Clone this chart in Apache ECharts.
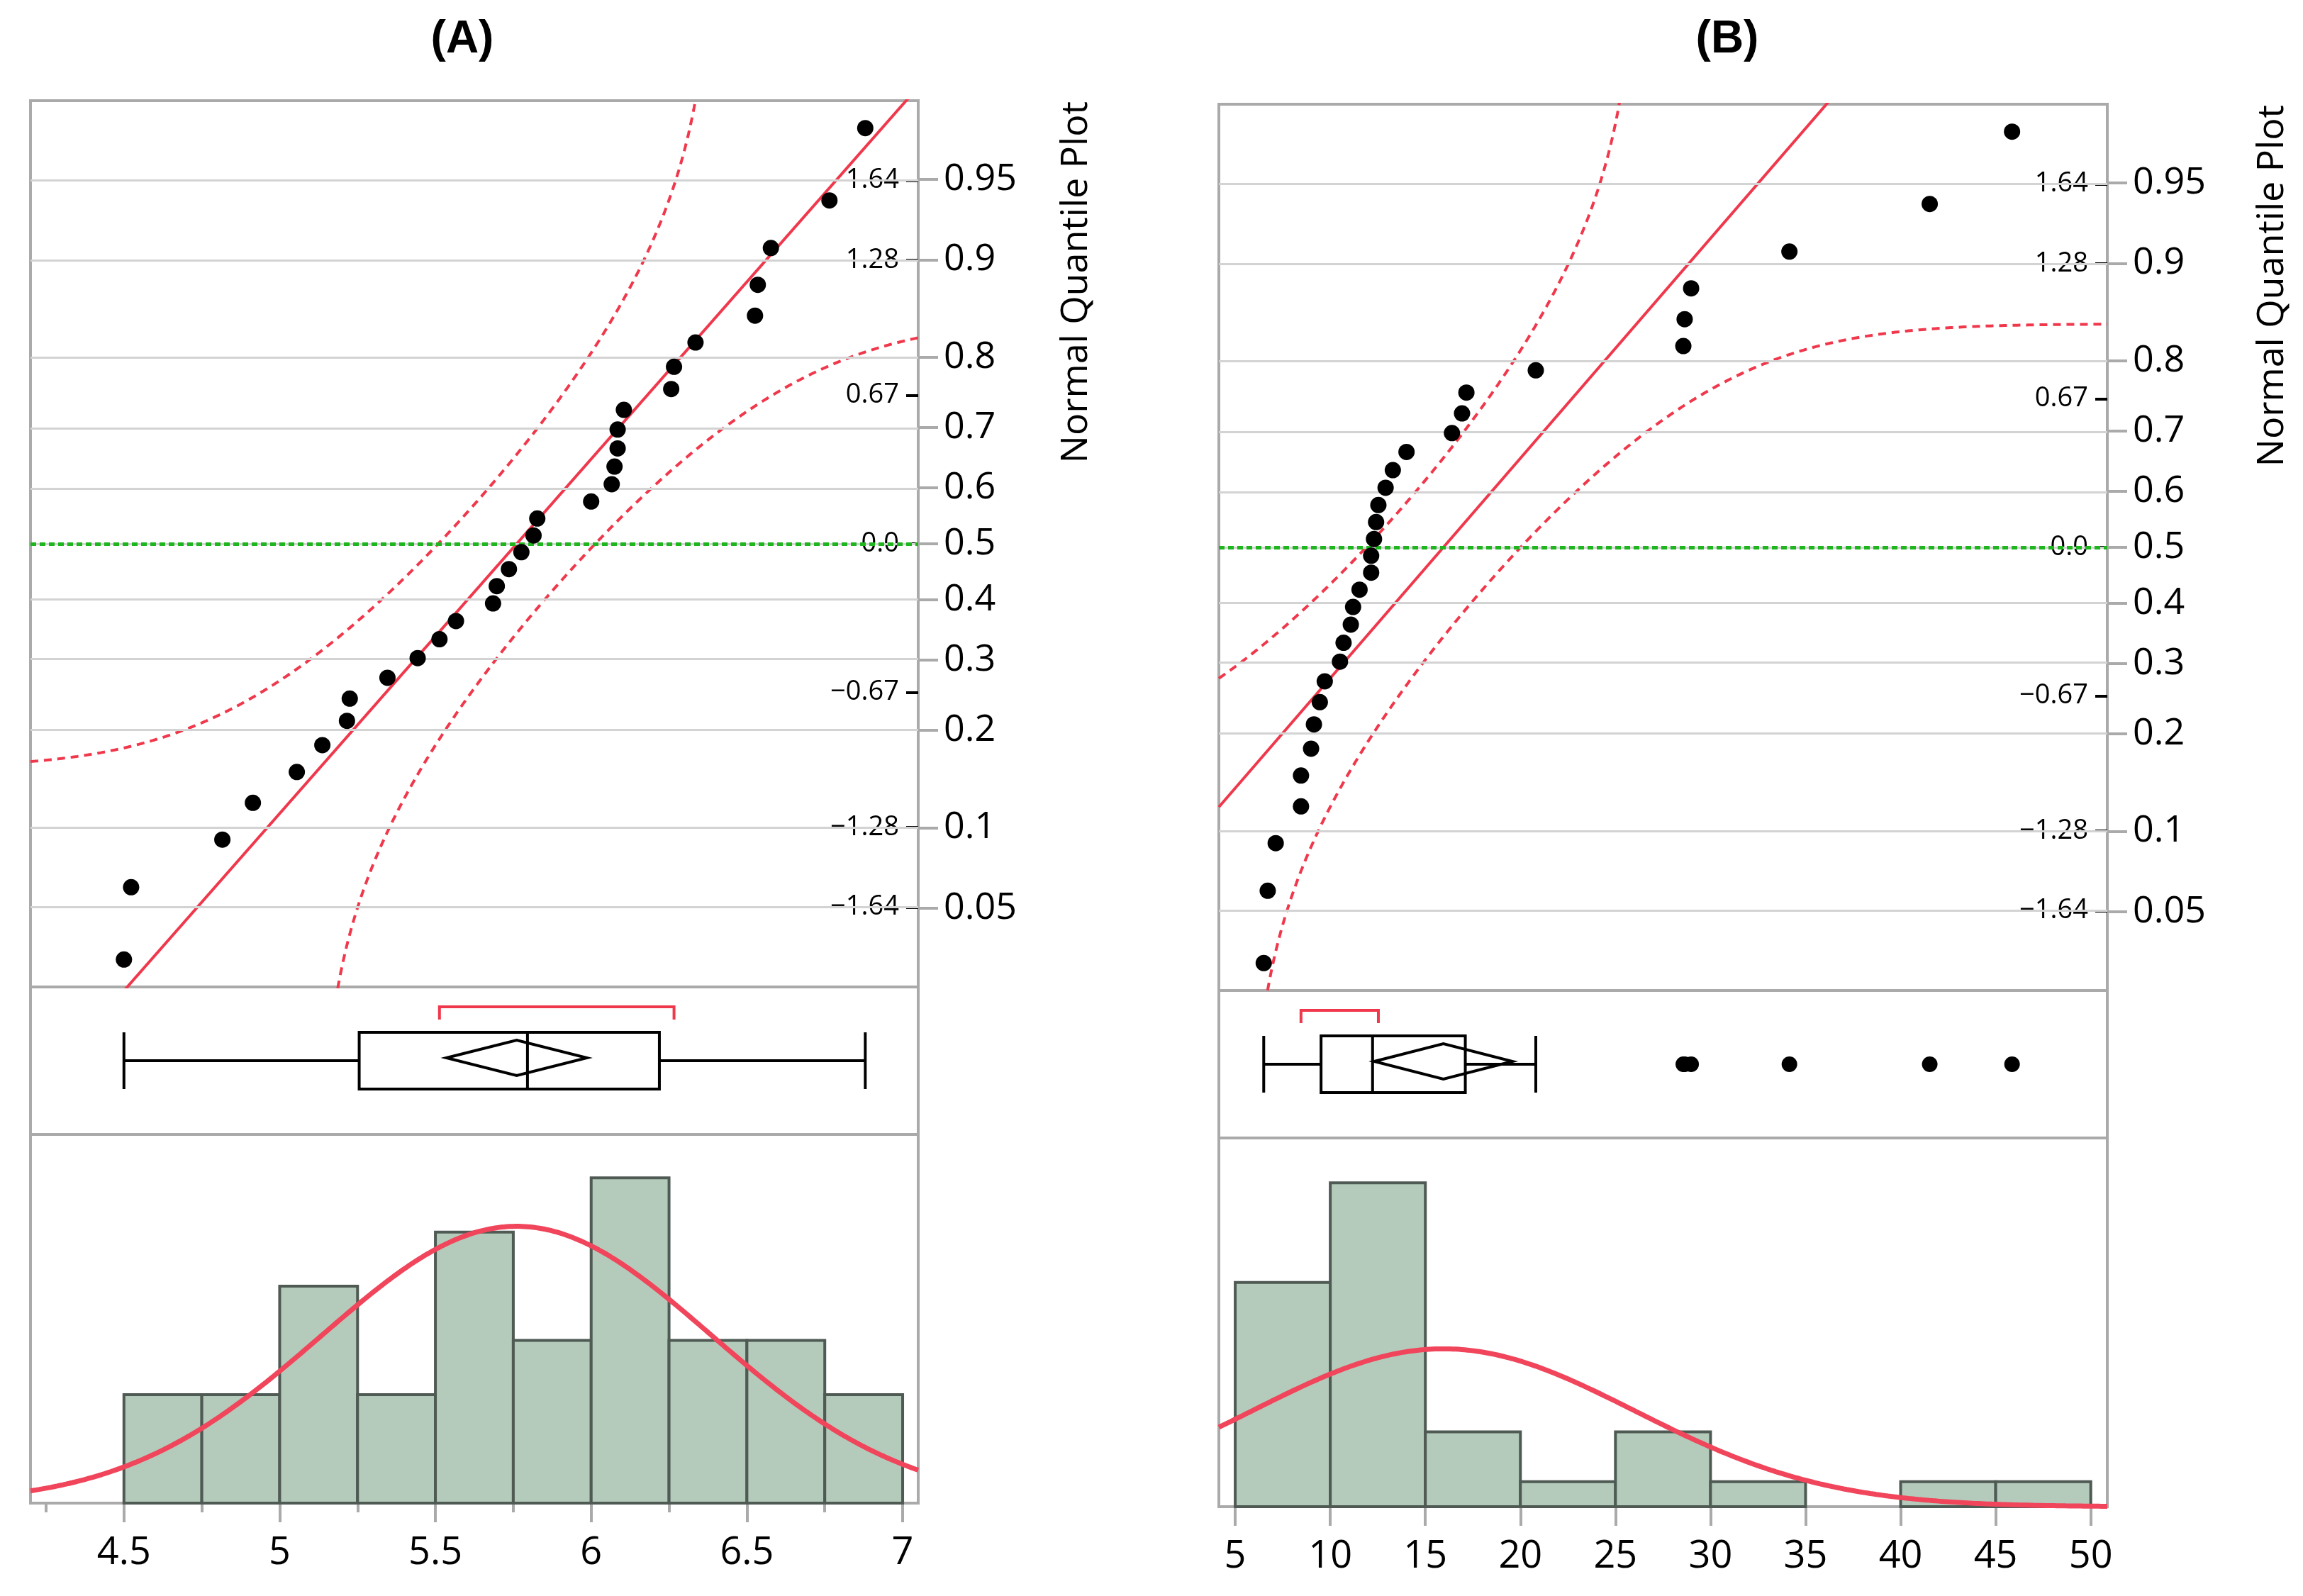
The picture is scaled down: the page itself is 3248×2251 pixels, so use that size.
<!DOCTYPE html>
<html>
<head>
<meta charset="utf-8">
<title>Normal quantile plots</title>
<script src="https://cdn.jsdelivr.net/npm/echarts@6.0.0/dist/echarts.min.js"></script>
<style>
  html, body { margin: 0; padding: 0; background: #fff; }
  #main { width: 3248px; height: 2251px; }
</style>
</head>
<body>
<div id="main"></div>
<script>
const valuesA = [4.50, 4.523, 4.816, 4.914, 5.055, 5.137, 5.216, 5.225, 5.346, 5.443,
  5.513, 5.566, 5.685, 5.697, 5.736, 5.776, 5.815, 5.827, 6.00, 6.066,
  6.075, 6.085, 6.085, 6.105, 6.257, 6.266, 6.335, 6.526, 6.535, 6.577,
  6.765, 6.88];
const valuesB = [6.50, 6.71, 7.13, 8.46, 8.46, 8.99, 9.14, 9.45, 9.71, 10.51,
  10.70, 11.08, 11.20, 11.54, 12.15, 12.15, 12.30, 12.41, 12.53, 12.91,
  13.29, 14.01, 16.40, 16.93, 17.16, 20.81, 28.57, 28.64, 28.98, 34.15,
  41.53, 45.86];

// histogram bins and counts
const binStartA = 4.5, binWidthA = 0.25;
const countsA = [2, 2, 4, 2, 5, 3, 6, 3, 3, 2];
const binStartB = 5, binWidthB = 5;
const countsB = [9, 13, 3, 1, 3, 1, 0, 1, 1];

// axis ticks
const probTicks = [0.05, 0.1, 0.2, 0.3, 0.4, 0.5, 0.6, 0.7, 0.8, 0.9, 0.95];
const probLabels = ["0.05", "0.1", "0.2", "0.3", "0.4", "0.5", "0.6", "0.7", "0.8", "0.9", "0.95"];
const zTicks = [-1.64, -1.28, -0.67, 0, 0.67, 1.28, 1.64];
const xTicksA = [4.5, 5, 5.5, 6, 6.5, 7];
const xMinorA = [4.25, 4.75, 5.25, 5.75, 6.25, 6.75];
const xTicksB = [5, 10, 15, 20, 25, 30, 35, 40, 45, 50];

const RED = "#f0384c";
const FONT = "Open Sans";

function phi(x) {
  const z = Math.abs(x) / Math.SQRT2;
  const t = 1 / (1 + 0.3275911 * z);
  const e = 1 - ((((1.061405429 * t - 1.453152027) * t + 1.421413741) * t - 0.284496736) * t + 0.254829592) * t * Math.exp(-z * z);
  return x >= 0 ? 0.5 * (1 + e) : 0.5 * (1 - e);
}

function invPhi(p) {
  const a = [-3.969683028665376e+01, 2.209460984245205e+02, -2.759285104469687e+02, 1.383577518672690e+02, -3.066479806614716e+01, 2.506628277459239e+00];
  const b = [-5.447609879822406e+01, 1.615858368580409e+02, -1.556989798598866e+02, 6.680131188771972e+01, -1.328068155288572e+01];
  const c = [-7.784894002430293e-03, -3.223964580411365e-01, -2.400758277161838e+00, -2.549732539343734e+00, 4.374664141464968e+00, 2.938163982698783e+00];
  const d = [7.784695709041462e-03, 3.224671290700398e-01, 2.445134137142996e+00, 3.754408661907416e+00];
  const pl = 0.02425;
  let q, r;
  if (p < pl) {
    q = Math.sqrt(-2 * Math.log(p));
    return (((((c[0] * q + c[1]) * q + c[2]) * q + c[3]) * q + c[4]) * q + c[5]) / ((((d[0] * q + d[1]) * q + d[2]) * q + d[3]) * q + 1);
  }
  if (p > 1 - pl) {
    q = Math.sqrt(-2 * Math.log(1 - p));
    return -(((((c[0] * q + c[1]) * q + c[2]) * q + c[3]) * q + c[4]) * q + c[5]) / ((((d[0] * q + d[1]) * q + d[2]) * q + d[3]) * q + 1);
  }
  q = p - 0.5;
  r = q * q;
  return (((((a[0] * r + a[1]) * r + a[2]) * r + a[3]) * r + a[4]) * r + a[5]) * q / (((((b[0] * r + b[1]) * r + b[2]) * r + b[3]) * r + b[4]) * r + 1);
}

// JMP style quantile, position p*(n+1)
function quantile(s, p) {
  const pos = p * (s.length + 1);
  const i = Math.floor(pos);
  const f = pos - i;
  if (i < 1) return s[0];
  if (i >= s.length) return s[s.length - 1];
  return s[i - 1] + f * (s[i] - s[i - 1]);
}

function stats(values) {
  const s = values.slice().sort((a, b) => a - b);
  const n = s.length;
  const mean = s.reduce((t, v) => t + v, 0) / n;
  const sd = Math.sqrt(s.reduce((t, v) => t + (v - mean) * (v - mean), 0) / (n - 1));
  const q1 = quantile(s, 0.25), med = quantile(s, 0.5), q3 = quantile(s, 0.75);
  const iqr = q3 - q1;
  const lo = s.find((v) => v >= q1 - 1.5 * iqr);
  const hi = s.filter((v) => v <= q3 + 1.5 * iqr).pop();
  // shortest half
  const k = Math.ceil(n / 2);
  let best = [s[0], s[k - 1]];
  for (let i = 0; i + k - 1 < n; i++) {
    if (s[i + k - 1] - s[i] < best[1] - best[0]) best = [s[i], s[i + k - 1]];
  }
  const ci = 2.04 * sd / Math.sqrt(n);
  return { s, n, mean, sd, q1, med, q3, lo, hi, best, ciLo: mean - ci, ciHi: mean + ci,
    outliers: s.filter((v) => v < lo || v > hi) };
}

const panels = [
  { title: "(A)", titleX: 652, nameX: 1518, left: 43, width: 1252, top: 142,
    xMin: 4.2, xMax: 7.05, histMax: 6.8, values: valuesA,
    binStart: binStartA, binWidth: binWidthA, counts: countsA, xTicks: xTicksA, xMinor: xMinorA },
  { title: "(B)", titleX: 2436, nameX: 3205, left: 1719, width: 1253, top: 147,
    xMin: 4.14, xMax: 50.87, histMax: 14.8, values: valuesB,
    binStart: binStartB, binWidth: binWidthB, counts: countsB, xTicks: xTicksB, xMinor: [] },
];

const QH = 1250, BH = 208, HH = 520;
const option = {
  animation: false,
  backgroundColor: "#fff",
  textStyle: { fontFamily: FONT },
  grid: [], xAxis: [], yAxis: [], series: [], graphic: [],
};

panels.forEach((p) => {
  const st = stats(p.values);
  const g0 = option.grid.length;
  const x0 = option.xAxis.length;
  const y0 = option.yAxis.length;
  const frame = { show: true, borderColor: "#aaaaaa", borderWidth: 4, backgroundColor: "#fff" };

  option.grid.push(
    Object.assign({ left: p.left, width: p.width, top: p.top, height: QH }, frame),
    Object.assign({ left: p.left, width: p.width, top: p.top + QH, height: BH }, frame),
    Object.assign({ left: p.left, width: p.width, top: p.top + QH + BH, height: HH }, frame)
  );

  const hidden = { show: false };
  // x axes: quantile, box, histogram major, histogram minor
  option.xAxis.push(
    { type: "value", gridIndex: g0, min: p.xMin, max: p.xMax, axisLine: hidden, axisTick: hidden, axisLabel: hidden, splitLine: hidden },
    { type: "value", gridIndex: g0 + 1, min: p.xMin, max: p.xMax, axisLine: hidden, axisTick: hidden, axisLabel: hidden, splitLine: hidden },
    { type: "value", gridIndex: g0 + 2, position: "bottom", min: p.xMin, max: p.xMax,
      axisLine: hidden, splitLine: hidden,
      axisTick: { show: true, length: 27, customValues: p.xTicks, lineStyle: { color: "#aaaaaa", width: 4 } },
      axisLabel: { show: true, customValues: p.xTicks, margin: 44, fontSize: 54, color: "#000", fontFamily: FONT } },
    { type: "value", gridIndex: g0 + 2, position: "bottom", min: p.xMin, max: p.xMax,
      axisLine: hidden, splitLine: hidden, axisLabel: hidden,
      axisTick: { show: p.xMinor.length > 0, length: 13, customValues: p.xMinor.length ? p.xMinor : [p.xMin], lineStyle: { color: "#aaaaaa", width: 4 } } }
  );

  const probZ = probTicks.map((q) => invPhi(q));
  // y axes: probability (outer), normal quantile (inner), box category, histogram
  option.yAxis.push(
    { type: "value", gridIndex: g0, position: "right", min: -2, max: 2, splitLine: hidden, axisLine: hidden,
      axisTick: { show: true, length: 28, customValues: probZ, lineStyle: { color: "#aaaaaa", width: 4 } },
      axisLabel: { show: true, customValues: probZ, margin: 36, fontSize: 52, color: "#000", fontFamily: FONT,
        formatter: (v) => {
          let k = 0;
          probZ.forEach((z, i) => { if (Math.abs(z - v) < Math.abs(probZ[k] - v)) k = i; });
          return probLabels[k];
        } } },
    { type: "value", gridIndex: g0, position: "right", min: -2, max: 2, splitLine: hidden, axisLine: hidden,
      axisTick: { show: true, inside: true, length: 17, customValues: zTicks, lineStyle: { color: "#000", width: 4 } },
      axisLabel: { show: true, inside: true, customValues: zTicks, margin: 27, fontSize: 38, color: "#000", fontFamily: FONT,
        formatter: (v) => (Number(v) === 0 ? "0.0" : (Number(v) < 0 ? "\u2212" : "") + Math.abs(Number(v)).toFixed(2)) } },
    { type: "category", gridIndex: g0 + 1, data: ["box"], show: false },
    { type: "value", gridIndex: g0 + 2, min: 0, max: p.histMax, show: false }
  );

  // ---- quantile plot ----
  option.series.push({
    type: "line", xAxisIndex: x0, yAxisIndex: y0, data: [], silent: true, z: 1,
    markLine: { silent: true, symbol: "none", label: { show: false },
      lineStyle: { color: "#d3d3d3", width: 3, type: "solid" },
      data: probZ.map((z) => ({ yAxis: z })) },
  });
  option.series.push({
    type: "line", xAxisIndex: x0, yAxisIndex: y0, data: [], silent: true, z: 3,
    markLine: { silent: true, symbol: "none", label: { show: false },
      lineStyle: { color: "#1fb51f", width: 5, type: [8, 5] },
      data: [{ yAxis: 0 }] },
  });

  const D = 0.886 / Math.sqrt(st.n);
  const upper = [], lower = [];
  const steps = 800;
  for (let i = 0; i <= steps; i++) {
    const x = p.xMin + (p.xMax - p.xMin) * i / steps;
    const F = phi((x - st.mean) / st.sd);
    upper.push([x, invPhi(Math.min(F + D, 1 - 1e-7))]);
    lower.push([x, invPhi(Math.max(F - D, 1e-7))]);
  }
  [upper, lower].forEach((band) => {
    option.series.push({
      type: "line", xAxisIndex: x0, yAxisIndex: y0, data: band, showSymbol: false, silent: true, z: 4,
      clip: true, lineStyle: { color: RED, width: 4, type: [11, 8] },
    });
  });
  option.series.push({
    type: "line", xAxisIndex: x0, yAxisIndex: y0, showSymbol: false, silent: true, z: 4, clip: true,
    data: [[p.xMin, (p.xMin - st.mean) / st.sd], [p.xMax, (p.xMax - st.mean) / st.sd]],
    lineStyle: { color: RED, width: 4 },
  });
  option.series.push({
    type: "scatter", xAxisIndex: x0, yAxisIndex: y0, symbolSize: 23, z: 5,
    itemStyle: { color: "#000", opacity: 1 },
    data: st.s.map((v, i) => [v, invPhi((i + 1) / (st.n + 1))]),
  });

  // ---- outlier box plot ----
  option.series.push({
    type: "boxplot", layout: "horizontal", xAxisIndex: x0 + 1, yAxisIndex: y0 + 2, boxWidth: [80, 80], z: 3,
    itemStyle: { color: "#fff", borderColor: "#000", borderWidth: 4 },
    data: [[st.lo, st.q1, st.med, st.q3, st.hi]],
  });
  option.series.push({
    type: "custom", xAxisIndex: x0 + 1, yAxisIndex: y0 + 2, z: 4, silent: true,
    data: [[st.ciLo, st.mean, st.ciHi]],
    renderItem: (params, api) => {
      const l = api.coord([api.value(0), 0]);
      const c = api.coord([api.value(1), 0]);
      const h = api.coord([api.value(2), 0]);
      const cy = c[1] - 4;
      return { type: "polygon", shape: { points: [[l[0], cy], [c[0], cy - 25], [h[0], cy], [c[0], cy + 25]] },
        style: { fill: null, stroke: "#000", lineWidth: 4 } };
    },
  });
  option.series.push({
    type: "custom", xAxisIndex: x0 + 1, yAxisIndex: y0 + 2, z: 4, silent: true,
    data: [st.best],
    renderItem: (params, api) => {
      const l = api.coord([api.value(0), 0]);
      const h = api.coord([api.value(1), 0]);
      const top = l[1] - 76, foot = l[1] - 58;
      return { type: "polyline", shape: { points: [[l[0], foot], [l[0], top], [h[0], top], [h[0], foot]] },
        style: { fill: null, stroke: RED, lineWidth: 4 } };
    },
  });
  if (st.outliers.length) {
    option.series.push({
      type: "scatter", xAxisIndex: x0 + 1, yAxisIndex: y0 + 2, symbolSize: 22, z: 5,
      itemStyle: { color: "#000", opacity: 1 },
      data: st.outliers.map((v) => [v, 0]),
    });
  }

  // ---- histogram ----
  option.series.push({
    type: "custom", xAxisIndex: x0 + 2, yAxisIndex: y0 + 3, z: 2, silent: true,
    encode: { x: [0, 1], y: 2 },
    data: p.counts.map((c, i) => [p.binStart + i * p.binWidth, p.binStart + (i + 1) * p.binWidth, c]),
    renderItem: (params, api) => {
      if (!api.value(2)) return null;
      const a = api.coord([api.value(0), api.value(2)]);
      const b = api.coord([api.value(1), 0]);
      return { type: "rect", shape: { x: a[0], y: a[1], width: b[0] - a[0], height: b[1] - a[1] },
        style: { fill: "#b4cbbb", stroke: "#4e5a53", lineWidth: 4 } };
    },
  });
  const curve = [];
  for (let i = 0; i <= 300; i++) {
    const x = p.xMin + (p.xMax - p.xMin) * i / 300;
    const u = (x - st.mean) / st.sd;
    curve.push([x, st.n * p.binWidth * Math.exp(-u * u / 2) / (st.sd * Math.sqrt(2 * Math.PI))]);
  }
  option.series.push({
    type: "line", xAxisIndex: x0 + 2, yAxisIndex: y0 + 3, data: curve, showSymbol: false, silent: true, z: 4,
    clip: true, lineStyle: { color: "#f0455b", width: 7 },
  });

  // ---- texts ----
  option.graphic.push({
    type: "text", x: p.titleX, y: 24, z: 10,
    style: { text: p.title, fontSize: 64, fontWeight: "bold", fontFamily: "Liberation Sans", fill: "#000",
      align: "center", textAlign: "center", verticalAlign: "top", textVerticalAlign: "top" },
  });
  option.graphic.push({
    type: "text", x: p.nameX, y: p.top + 1, rotation: Math.PI / 2, z: 10,
    style: { text: "Normal Quantile Plot", fontSize: 52, fontFamily: FONT, fill: "#000",
      align: "right", textAlign: "right", verticalAlign: "middle", textVerticalAlign: "middle" },
  });
});

const chart = echarts.init(document.getElementById("main"));
chart.setOption(option);
</script>
</body>
</html>
